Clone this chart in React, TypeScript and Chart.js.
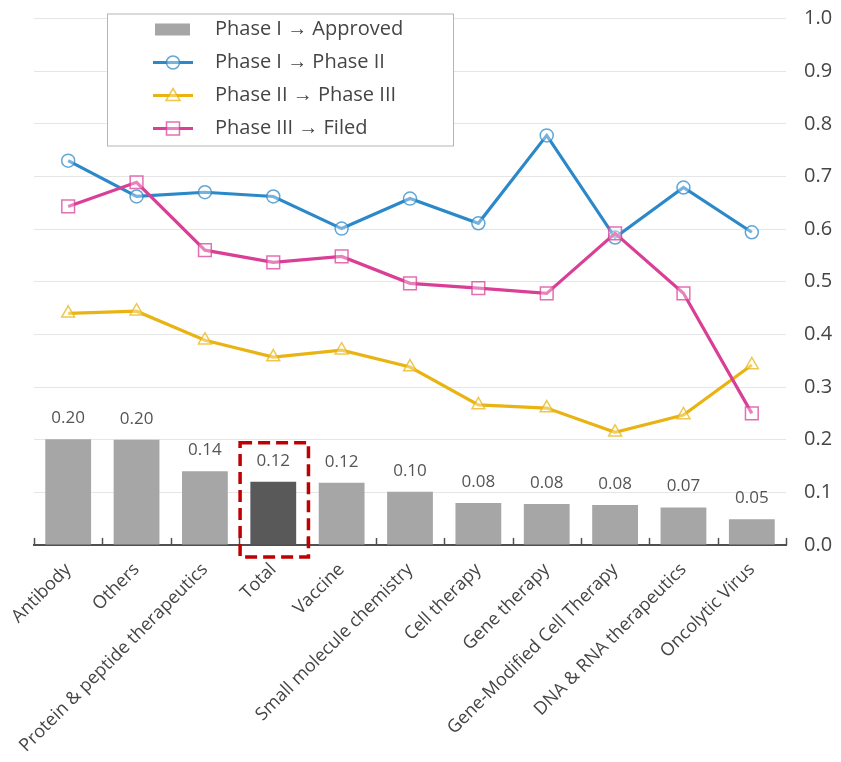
import React, { useEffect, useRef } from "react";
import { Chart, registerables } from "chart.js";

Chart.register(...registerables);

// Modality categories along the x axis
const categories = [
  "Antibody",
  "Others",
  "Protein & peptide therapeutics",
  "Total",
  "Vaccine",
  "Small molecule chemistry",
  "Cell therapy",
  "Gene therapy",
  "Gene-Modified Cell Therapy",
  "DNA & RNA therapeutics",
  "Oncolytic Virus",
];

// Transition probabilities
const phase1ToApproved = [0.201, 0.2, 0.14, 0.12, 0.118, 0.101, 0.08, 0.078, 0.076, 0.071, 0.049];
const phase1ToPhase2 = [0.73, 0.662, 0.67, 0.662, 0.601, 0.658, 0.611, 0.778, 0.584, 0.679, 0.594];
const phase2ToPhase3 = [0.44, 0.444, 0.389, 0.357, 0.37, 0.338, 0.266, 0.26, 0.214, 0.247, 0.342];
const phase3ToFiled = [0.643, 0.689, 0.56, 0.537, 0.548, 0.497, 0.488, 0.478, 0.592, 0.478, 0.25];

const seriesNames = [
  "Phase I \u2192 Approved",
  "Phase I \u2192 Phase II",
  "Phase II \u2192 Phase III",
  "Phase III \u2192 Filed",
];

const yTicks = [0, 0.1, 0.2, 0.3, 0.4, 0.5, 0.6, 0.7, 0.8, 0.9, 1.0];

const highlightCategory = "Total";

const FONT = "'Open Sans', 'Noto Sans', sans-serif";
const TEXT = "#454545";
const BAR = "#a6a6a6";
const BAR_HL = "#595959";
const BLUE = "#2b89c9";
const GOLD = "#e9b413";
const PINK = "#da3f96";

function alpha(hex: string, a: number) {
  const n = parseInt(hex.slice(1), 16);
  return `rgba(${(n >> 16) & 255},${(n >> 8) & 255},${n & 255},${a})`;
}

// Value labels over the bars
const barLabelPlugin = {
  id: "barLabels",
  afterDatasetsDraw(chart: any) {
    const meta = chart.getDatasetMeta(0);
    const ds = chart.data.datasets[0];
    const ctx = chart.ctx;
    ctx.save();
    ctx.font = `17px ${FONT}`;
    ctx.fillStyle = "#555555";
    ctx.textAlign = "center";
    ctx.textBaseline = "middle";
    meta.data.forEach((bar: any, i: number) => {
      ctx.fillText((ds.data[i] as number).toFixed(2), bar.x, bar.y - 21);
    });
    ctx.restore();
  },
};

// Short upward tick marks at category boundaries and the dashed highlight frame
const axisDecorPlugin = {
  id: "axisDecor",
  afterDatasetsDraw(chart: any) {
    const { ctx, chartArea, scales } = chart;
    const x = scales.x;
    const y = scales.y;
    const n = chart.data.labels.length;
    const step = (chartArea.right - chartArea.left) / n;
    ctx.save();
    ctx.strokeStyle = "#505050";
    ctx.lineWidth = 1.5;
    for (let i = 0; i <= n; i++) {
      const px = Math.round(chartArea.left + i * step) + 0.5;
      ctx.beginPath();
      ctx.moveTo(px, chartArea.bottom);
      ctx.lineTo(px, chartArea.bottom - 7);
      ctx.stroke();
    }
    const hi = chart.data.labels.indexOf(highlightCategory);
    if (hi >= 0) {
      const cx = x.getPixelForValue(hi);
      const left = cx - step / 2 + 1;
      const right = cx + step / 2 + 1;
      const top = y.getPixelForValue(0.2) + 3;
      const bottom = chartArea.bottom + 12;
      ctx.strokeStyle = "#c00000";
      ctx.lineWidth = 3.5;
      ctx.setLineDash([12, 6]);
      ctx.strokeRect(left, top, right - left, bottom - top);
    }
    ctx.restore();
  },
};

// Boxed legend floating in the upper-left of the plot
const boxLegendPlugin = {
  id: "boxLegend",
  afterDraw(chart: any) {
    const { ctx, chartArea } = chart;
    const bx = chartArea.left + 73;
    const by = chartArea.top - 5;
    const bw = 346;
    const bh = 132;
    ctx.save();
    ctx.fillStyle = "#ffffff";
    ctx.fillRect(bx, by, bw, bh);
    ctx.strokeStyle = "#b5b5b5";
    ctx.lineWidth = 1;
    ctx.strokeRect(bx + 0.5, by + 0.5, bw, bh);
    const datasets = chart.data.datasets;
    datasets.forEach((ds: any, i: number) => {
      const cy = by + 16 + i * 33;
      const sx = bx + 46;
      if (ds.type === "bar") {
        ctx.fillStyle = BAR;
        ctx.fillRect(sx + 2, cy - 6, 35, 12);
      } else {
        ctx.strokeStyle = ds.borderColor;
        ctx.lineWidth = 3;
        ctx.beginPath();
        ctx.moveTo(sx, cy);
        ctx.lineTo(sx + 40, cy);
        ctx.stroke();
        ctx.strokeStyle = ds.pointBorderColor;
        ctx.fillStyle = ds.pointBackgroundColor;
        ctx.lineWidth = 1.5;
        const mx = sx + 20;
        ctx.beginPath();
        if (ds.pointStyle === "circle") {
          ctx.arc(mx, cy, 6.5, 0, Math.PI * 2);
        } else if (ds.pointStyle === "triangle") {
          ctx.moveTo(mx, cy - 7);
          ctx.lineTo(mx + 7, cy + 5);
          ctx.lineTo(mx - 7, cy + 5);
          ctx.closePath();
        } else {
          ctx.rect(mx - 6.5, cy - 6.5, 13, 13);
        }
        ctx.fill();
        ctx.stroke();
      }
      ctx.fillStyle = TEXT;
      ctx.font = `20px ${FONT}`;
      ctx.textAlign = "left";
      ctx.textBaseline = "middle";
      ctx.fillText(ds.label, bx + 108, cy);
    });
    ctx.restore();
  },
};

function lineSet(label: string, data: number[], color: string, style: string, radius: number, order: number) {
  return {
    type: "line" as const,
    label,
    data,
    borderColor: color,
    borderWidth: 3.2,
    pointStyle: style,
    pointRadius: radius,
    pointBorderWidth: 1.5,
    pointBorderColor: alpha(color, 0.75),
    pointBackgroundColor: "rgba(255,255,255,0.35)",
    tension: 0,
    order,
  };
}

export default function App() {
  const ref = useRef<HTMLCanvasElement | null>(null);

  useEffect(() => {
    if (!ref.current) return;
    const chart = new Chart(ref.current, {
      type: "bar",
      data: {
        labels: categories,
        datasets: [
          {
            type: "bar" as const,
            label: seriesNames[0],
            data: phase1ToApproved,
            backgroundColor: categories.map((c) => (c === highlightCategory ? BAR_HL : BAR)),
            barPercentage: 0.67,
            categoryPercentage: 1,
            order: 10,
          },
          lineSet(seriesNames[1], phase1ToPhase2, BLUE, "circle", 6.5, 3),
          lineSet(seriesNames[2], phase2ToPhase3, GOLD, "triangle", 7.5, 2),
          lineSet(seriesNames[3], phase3ToFiled, PINK, "rect", 9, 1),
        ] as any,
      },
      options: {
        responsive: false,
        animation: false,
        devicePixelRatio: 1,
        layout: { padding: { left: 26, top: 10, right: 0, bottom: 0 } },
        plugins: {
          legend: { display: false },
          tooltip: { enabled: false },
        },
        scales: {
          x: {
            offset: true,
            grid: { display: true, drawOnChartArea: false, drawTicks: false },
            border: { display: true, color: "#505050", width: 2 },
            ticks: {
              autoSkip: false,
              maxRotation: 45,
              minRotation: 45,
              padding: 14,
              color: TEXT,
              font: { size: 18, family: FONT },
            },
            afterFit(scale: any) {
              scale.height = 209;
              scale.paddingLeft = 0;
              scale.paddingRight = 0;
            },
          },
          y: {
            position: "right",
            min: 0,
            max: 1,
            afterBuildTicks(scale: any) {
              scale.ticks = yTicks.map((v) => ({ value: v }));
            },
            grid: {
              drawTicks: false,
              color: (c: any) => (c.tick && c.tick.value === 0 ? "rgba(0,0,0,0)" : "#e6e6e6"),
              lineWidth: 1,
            },
            border: { display: false },
            ticks: {
              padding: 18,
              color: TEXT,
              font: { size: 20, family: FONT },
              callback: (v: any) => Number(v).toFixed(1),
            },
            afterFit(scale: any) {
              scale.width = 47;
              scale.paddingTop = 0;
              scale.paddingBottom = 0;
            },
          },
        },
      },
      plugins: [barLabelPlugin, axisDecorPlugin, boxLegendPlugin],
    });
    return () => chart.destroy();
  }, []);

  return (
    <div style={{ width: 825, height: 746 }}>
      <canvas ref={ref} width={825} height={746} style={{ width: 825, height: 746, display: "block" }} />
    </div>
  );
}
